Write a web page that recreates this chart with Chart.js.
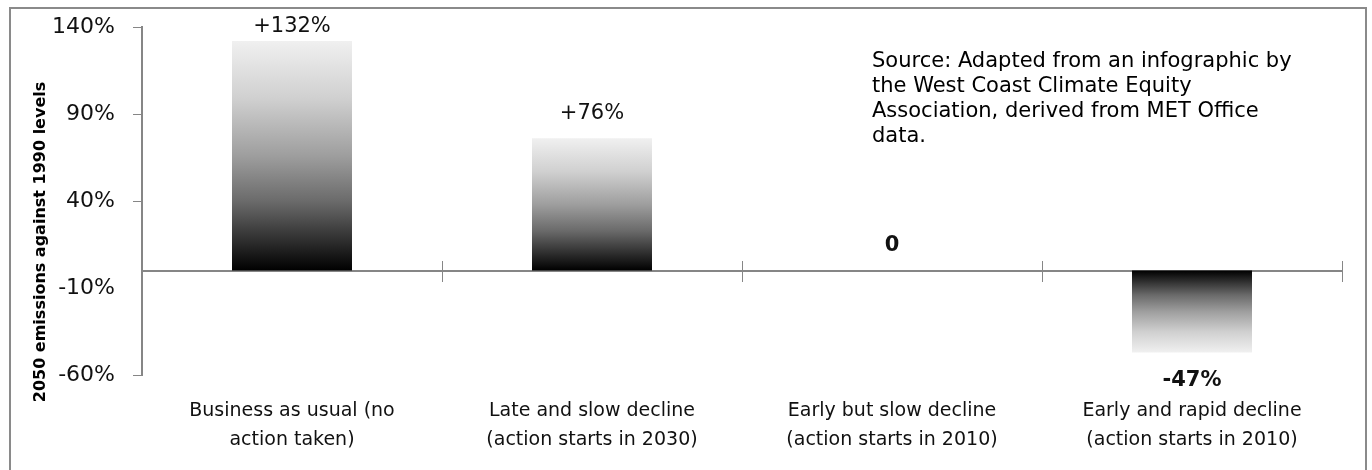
<!DOCTYPE html>
<html>
<head>
<meta charset="utf-8">
<script src="https://cdn.jsdelivr.net/npm/chart.js@4.4.1/dist/chart.umd.min.js"></script>
<style>
  html, body { margin: 0; padding: 0; background: #fff; }
  #wrap { width: 1372px; height: 470px; }
</style>
</head>
<body>
<div id="wrap"><canvas id="chart" width="1372" height="470"></canvas></div>
<script>
// Scenario names (two lines each)
const categories = [
  ['Business as usual (no', 'action taken)'],
  ['Late and slow decline', '(action starts in 2030)'],
  ['Early but slow decline', '(action starts in 2010)'],
  ['Early and rapid decline', '(action starts in 2010)']
];
// Change in 2050 emissions relative to 1990, percent
const emissionChange = [132, 76, 0, -47];
// Value-axis tick values, percent
const yTicks = [-60, -10, 40, 90, 140];
const axisTitle = '2050 emissions against 1990 levels';
const sourceNote = [
  'Source: Adapted from an infographic by',
  'the West Coast Climate Equity',
  'Association, derived from MET Office',
  'data.'
];

const FONT = '"DejaVu Sans", "Liberation Sans", sans-serif';
const AXIS_GREY = '#868686';
const labelWeights = ['normal', 'normal', 'bold', 'bold'];

// Vertical black-to-light fill running from the zero line out to the bar tip
function barFill(context) {
  const chart = context.chart;
  if (!chart.chartArea || context.type !== 'data') return '#000';
  const yScale = chart.scales.y;
  const base = yScale.getPixelForValue(0);
  const tip = yScale.getPixelForValue(context.raw);
  if (Math.abs(tip - base) < 0.5) return '#000';
  const g = chart.ctx.createLinearGradient(0, base, 0, tip);
  g.addColorStop(0, '#000000');
  g.addColorStop(0.3, '#6a6a6a');
  g.addColorStop(0.5, '#9e9e9e');
  g.addColorStop(0.75, '#d0d0d0');
  g.addColorStop(1, '#f0f0f0');
  return g;
}

function formatChange(v) {
  if (v > 0) return '+' + v + '%';
  if (v < 0) return v + '%';
  return '0';
}

// Outer frame around the whole chart
const framePlugin = {
  id: 'frame',
  beforeDraw(chart) {
    const ctx = chart.ctx;
    ctx.save();
    ctx.fillStyle = '#fff';
    ctx.fillRect(0, 0, chart.width, chart.height);
    ctx.strokeStyle = '#8a8a8a';
    ctx.lineWidth = 2;
    ctx.strokeRect(10, 8, 1356, 500);
    ctx.restore();
  }
};

// Upper half of the category divider ticks on the zero axis
// (the lower half comes from the xZero scale's own tick marks)
const crossTickPlugin = {
  id: 'crossTicks',
  afterDraw(chart) {
    const xs = chart.scales.xZero;
    const zero = Math.round(chart.scales.y.getPixelForValue(0));
    const ctx = chart.ctx;
    ctx.save();
    ctx.strokeStyle = AXIS_GREY;
    ctx.lineWidth = 1;
    ctx.beginPath();
    for (let i = 0; i <= chart.data.labels.length; i++) {
      const x = Math.round(xs.getPixelForValue(i - 0.5)) + 0.5;
      ctx.moveTo(x, zero - 10);
      ctx.lineTo(x, zero);
    }
    ctx.stroke();
    ctx.restore();
  }
};

// Value labels at the end of each bar
const valueLabelPlugin = {
  id: 'valueLabels',
  afterDatasetsDraw(chart) {
    const ctx = chart.ctx;
    const area = chart.chartArea;
    const data = chart.data.datasets[0].data;
    chart.getDatasetMeta(0).data.forEach((bar, i) => {
      const v = data[i];
      const y = v >= 0 ? Math.max(bar.y - 25, area.top) : bar.y + 28;
      ctx.save();
      ctx.font = labelWeights[i] + ' 21px ' + FONT;
      ctx.fillStyle = '#111';
      ctx.textAlign = 'center';
      ctx.textBaseline = 'middle';
      ctx.fillText(formatChange(v), bar.x, y);
      ctx.restore();
    });
  }
};

// Rotated value-axis title and the source note
const textPlugin = {
  id: 'texts',
  afterDraw(chart) {
    const ctx = chart.ctx;
    ctx.save();
    ctx.translate(41, 242);
    ctx.rotate(-Math.PI / 2);
    ctx.font = 'bold 16px ' + FONT;
    ctx.fillStyle = '#000';
    ctx.textAlign = 'center';
    ctx.textBaseline = 'middle';
    ctx.fillText(axisTitle, 0, 0);
    ctx.restore();

    ctx.save();
    ctx.font = '21px ' + FONT;
    ctx.fillStyle = '#000';
    ctx.textAlign = 'left';
    ctx.textBaseline = 'middle';
    sourceNote.forEach((line, i) => ctx.fillText(line, 872, 62 + i * 25));
    ctx.restore();
  }
};

new Chart(document.getElementById('chart'), {
  type: 'bar',
  data: {
    labels: categories,
    datasets: [{
      data: emissionChange,
      backgroundColor: barFill,
      borderWidth: 0,
      categoryPercentage: 1,
      barPercentage: 0.4,
      xAxisID: 'x',
      yAxisID: 'y'
    }]
  },
  options: {
    responsive: false,
    devicePixelRatio: 1,
    animation: false,
    layout: { padding: { top: 27, right: 30, left: 0, bottom: 0 } },
    plugins: {
      legend: { display: false },
      tooltip: { enabled: false }
    },
    scales: {
      x: {
        type: 'category',
        position: 'bottom',
        offset: true,
        grid: { display: false, drawTicks: false },
        border: { display: false },
        ticks: {
          color: '#111',
          font: { family: FONT, size: 19, lineHeight: 1.5 },
          padding: 22,
          maxRotation: 0,
          autoSkip: false
        },
        afterFit(scale) { scale.height = 95; }
      },
      // Zero line with category divider ticks
      xZero: {
        type: 'category',
        axis: 'x',
        position: { y: 0 },
        offset: true,
        ticks: { display: false },
        grid: {
          offset: true,
          drawOnChartArea: false,
          drawTicks: true,
          tickLength: 10,
          color: AXIS_GREY,
          lineWidth: 1
        },
        border: { display: true, color: AXIS_GREY, width: 2 }
      },
      y: {
        position: 'left',
        min: yTicks[0],
        max: yTicks[yTicks.length - 1],
        afterBuildTicks(scale) {
          scale.ticks = yTicks.map(v => ({ value: v }));
        },
        grid: {
          drawOnChartArea: false,
          drawTicks: true,
          tickLength: 9,
          lineWidth: 1,
          color: ctx => (ctx.tick && ctx.tick.value === -10) ? 'rgba(0,0,0,0)' : AXIS_GREY
        },
        border: { color: AXIS_GREY, width: 2 },
        ticks: {
          color: '#111',
          padding: 18,
          font: { family: FONT, size: 22 },
          callback: v => v + '%'
        },
        afterFit(scale) {
          scale.width = 142;
          scale.paddingTop = 0;
          scale.paddingBottom = 0;
        }
      }
    }
  },
  plugins: [framePlugin, crossTickPlugin, valueLabelPlugin, textPlugin]
});
</script>
</body>
</html>
